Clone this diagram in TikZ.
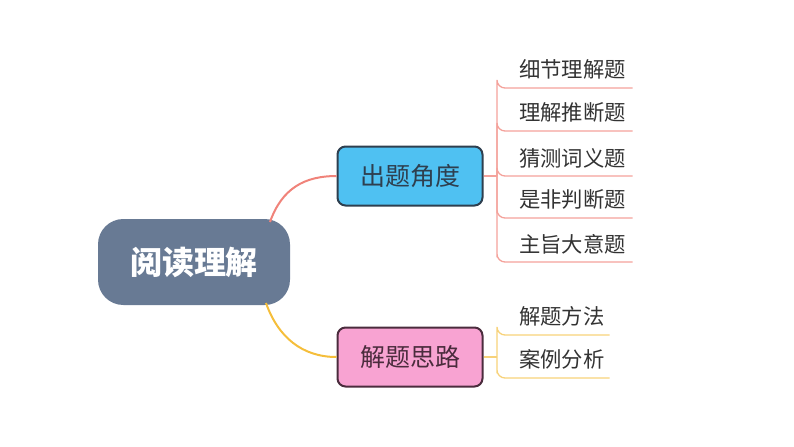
\documentclass[tikz,border=0pt]{standalone}
\usepackage{fontspec}
\newfontfamily\cjk{Noto Sans CJK SC}
\usetikzlibrary{positioning}
\definecolor{rootfill}{HTML}{687A94}
\definecolor{topicblue}{HTML}{4FC1F2}
\definecolor{topicblueline}{HTML}{2E3F4F}
\definecolor{topicpink}{HTML}{F8A3D2}
\definecolor{topicpinkline}{HTML}{4B2C3D}
\definecolor{redbranch}{HTML}{F0837A}
\definecolor{redleaf}{HTML}{F4A29B}
\definecolor{yellowbranch}{HTML}{F5BE3B}
\definecolor{yellowleaf}{HTML}{F7D27A}
\definecolor{leaftext}{HTML}{333333}

\begin{document}
\begin{tikzpicture}[x=0.75pt, y=-0.75pt]
        \tikzstyle{every node}=[font=\cjk]
        \tikzstyle{root}=[fill=rootfill, text=white, rounded corners=19pt,
          minimum width=144pt, minimum height=64.5pt, font=\cjk\bfseries\fontsize{24}{28}\selectfont]
        \tikzstyle{topic}=[line width=1.5pt, rounded corners=6pt,
          minimum width=108.75pt, minimum height=44.25pt, font=\cjk\fontsize{18.75}{22}\selectfont]
        \tikzstyle{leaf}=[anchor=south west, inner xsep=0pt, inner ysep=6pt, text=leaftext,
          text width=101.25pt, align=left, font=\cjk\fontsize{16}{19}\selectfont,
          execute at begin node=\hspace*{16.5pt}]
        \tikzstyle{redline}=[redleaf, line width=1pt, rounded corners=6pt]
        \tikzstyle{yellowline}=[yellowleaf, line width=1pt, rounded corners=6pt]
        \useasboundingbox (0, 0) rectangle (794, 447);
        \node [root] (read) at (194, 262) {阅读理解};
        \node [topic, draw=topicblueline, fill=topicblue, text=topicblueline] (angle) at (410, 176) {出题角度};
        \node [topic, draw=topicpinkline, fill=topicpink, text=topicpinkline] (idea) at (410, 357) {解题思路};
        \coordinate (rstart) at (270, 222);
        \coordinate (ystart) at (266, 303);
        \draw [redbranch, line width=1.5pt] (rstart) .. controls (282, 188) and (305, 176) .. (angle.west);
        \draw [yellowbranch, line width=1.5pt] (ystart) .. controls (278, 337) and (302, 357) .. (idea.west);
        % question types
        \coordinate (rhub) at (497, 176);
        \node [leaf] (q1) at (497, 88) {细节理解题};
        \node [leaf] (q2) at (497, 131) {理解推断题};
        \node [leaf] (q3) at (497, 176) {猜测词义题};
        \node [leaf] (q4) at (497, 218) {是非判断题};
        \node [leaf] (q5) at (497, 262) {主旨大意题};
        \draw [redline] (angle.east) -- (rhub);
        \foreach \q in {q1, q2, q3, q4, q5}
          \draw [redline] (rhub) |- (\q.south west) -- (\q.south east);
        % solving ideas
        \coordinate (yhub) at (497, 357);
        \node [leaf, text width=84pt] (s1) at (497, 335) {解题方法};
        \node [leaf, text width=84pt] (s2) at (497, 378) {案例分析};
        \draw [yellowline] (idea.east) -- (yhub);
        \foreach \s in {s1, s2}
          \draw [yellowline] (yhub) |- (\s.south west) -- (\s.south east);
      \end{tikzpicture}
\end{document}
